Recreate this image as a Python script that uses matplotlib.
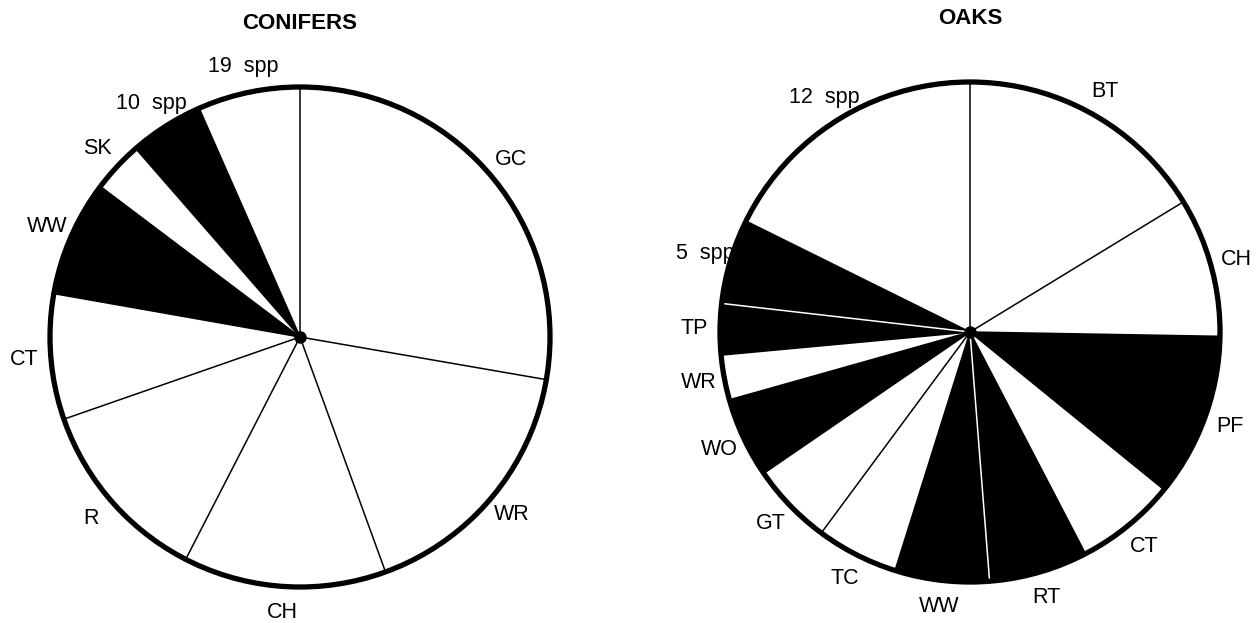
import numpy as np
import matplotlib
matplotlib.use("Agg")
import matplotlib.pyplot as plt
from matplotlib.patches import Circle

plt.rcParams['font.family'] = ['Liberation Sans', 'DejaVu Sans']

# conifers, clockwise from 12 o'clock (percent of pie)
conifer_labels = ["GC", "WR", "CH", "R", "CT", "WW", "SK", "10  spp", "19  spp"]
conifer_values = [27.7, 16.7, 13.1, 12.1, 8.1, 7.5, 3.3, 4.8, 6.6]
conifer_shaded = [False, False, False, False, False, True, False, True, False]

# oaks, clockwise from 12 o'clock
oak_labels = ["BT", "CH", "PF", "CT", "RT", "WW", "TC", "GT", "WO", "WR", "TP", "5  spp", "12  spp"]
oak_values = [16.3, 9.0, 10.6, 6.5, 6.4, 6.1, 5.3, 5.3, 5.2, 2.9, 3.3, 5.5, 17.7]
oak_shaded = [False, False, True, False, True, True, False, False, True, False, True, True, False]


def draw_pie(ax, title, labels, values, shaded):
    colors = ["black" if s else "white" for s in shaded]
    ax.pie(values, colors=colors, startangle=90, counterclock=False,
           radius=1.0, wedgeprops=dict(linewidth=0))
    # angles of the wedge edges
    cum = np.concatenate([[0], np.cumsum(values)]) / np.sum(values)
    angles = np.deg2rad(90 - 360 * cum)
    n = len(values)
    for i in range(n):
        prev = shaded[i - 1]
        cur = shaded[i]
        lc = "white" if (prev and cur) else "black"
        a = angles[i]
        ax.plot([0, np.cos(a)], [0, np.sin(a)], color=lc, lw=1.1, zorder=3)
    for i in range(n):
        mid = (angles[i] + angles[i + 1]) / 2
        ax.text(1.105 * np.cos(mid), 1.105 * np.sin(mid), labels[i],
                ha="center", va="center", fontsize=15.5)
    ax.add_patch(Circle((0, 0), 1.0, fill=False, ec="black", lw=3.8, zorder=4))
    ax.plot(0, 0, "o", color="black", ms=8, zorder=5)
    ax.text(0, 1.255, title, ha="center", va="center", fontsize=16, fontweight="bold")
    ax.set_xlim(-1.2, 1.2)
    ax.set_ylim(-1.2, 1.2)
    ax.set_aspect("equal")
    ax.axis("off")


fig = plt.figure(figsize=(12.6, 6.23), dpi=100)
W, H = 1260, 623
ax1 = fig.add_axes([0 / W, (H - 337 - 300) / H, 600 / W, 600 / H])
ax2 = fig.add_axes([670 / W, (H - 332 - 300) / H, 600 / W, 600 / H])

draw_pie(ax1, "CONIFERS", conifer_labels, conifer_values, conifer_shaded)
draw_pie(ax2, "OAKS", oak_labels, oak_values, oak_shaded)

fig.savefig("out.png", dpi=100)
